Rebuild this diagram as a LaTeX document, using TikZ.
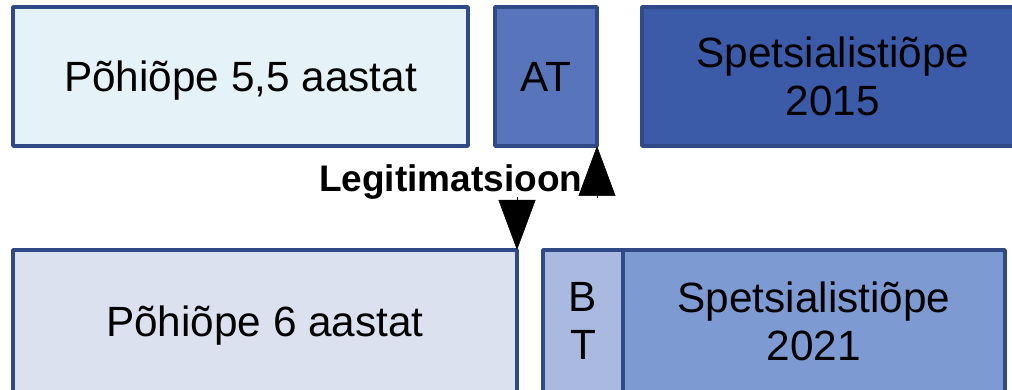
\documentclass[tikz,border=0pt]{standalone}
\usepackage{fontspec}
\setmainfont{Liberation Sans}
\usetikzlibrary{arrows.meta}
\definecolor{edgeblue}{HTML}{2F4A87}
\definecolor{fillA}{HTML}{E5F2F7}
\definecolor{fillAT}{HTML}{5874BA}
\definecolor{fillS15}{HTML}{3B5AA8}
\definecolor{fillB}{HTML}{DCE1F0}
\definecolor{fillBT}{HTML}{A9B9E0}
\definecolor{fillS21}{HTML}{7E9AD3}
\begin{document}
\begin{tikzpicture}[x=1pt,y=-1pt,
  boxstyle/.style={draw=edgeblue, line width=3.5pt, line join=round, rectangle, inner sep=0pt, outer sep=0pt,
    align=center, font=\fontsize{42.3}{48}\selectfont, text=black},
  oneline/.style={text depth=0pt},
  triarrow/.style={line width=0.5pt, -{Triangle[length=50pt, width=37pt]}},
  labelstyle/.style={font=\fontsize{37}{44}\selectfont\bfseries, inner sep=0pt}
]
\useasboundingbox (0,0) rectangle (1012,390);
\clip (0,0) rectangle (1012,390);
% top row
\node[boxstyle, oneline, fill=fillA, minimum width=455pt, minimum height=139pt] (p55) at (240.5,76.5) {Põhiõpe 5,5 aastat};
\node[boxstyle, oneline, fill=fillAT, minimum width=102pt, minimum height=139pt] (at) at (546,76.5) {AT};
\node[boxstyle, fill=fillS15, minimum width=382pt, minimum height=139pt] (s15) at (833,76.5) {Spetsialistiõpe\\2015};
% bottom row
\node[boxstyle, oneline, fill=fillB, minimum width=504pt, minimum height=142pt] (p6) at (265,321) {Põhiõpe 6 aastat};
\node[boxstyle, fill=fillBT, minimum width=80pt, minimum height=142pt] (bt) at (583,321) {B\\T};
\node[boxstyle, fill=fillS21, minimum width=382pt, minimum height=142pt] (s21) at (814,321) {Spetsialistiõpe\\2021};
% label
\node[labelstyle, anchor=base west] (leg) at (319,192) {Legitimatsioon};
% arrows
\coordinate (upstart) at (597,198);
\coordinate (downstart) at (517,197);
\draw[triarrow] (upstart) -- (at.south east);
\draw[triarrow] (downstart) -- (p6.north east);
\end{tikzpicture}
\end{document}
